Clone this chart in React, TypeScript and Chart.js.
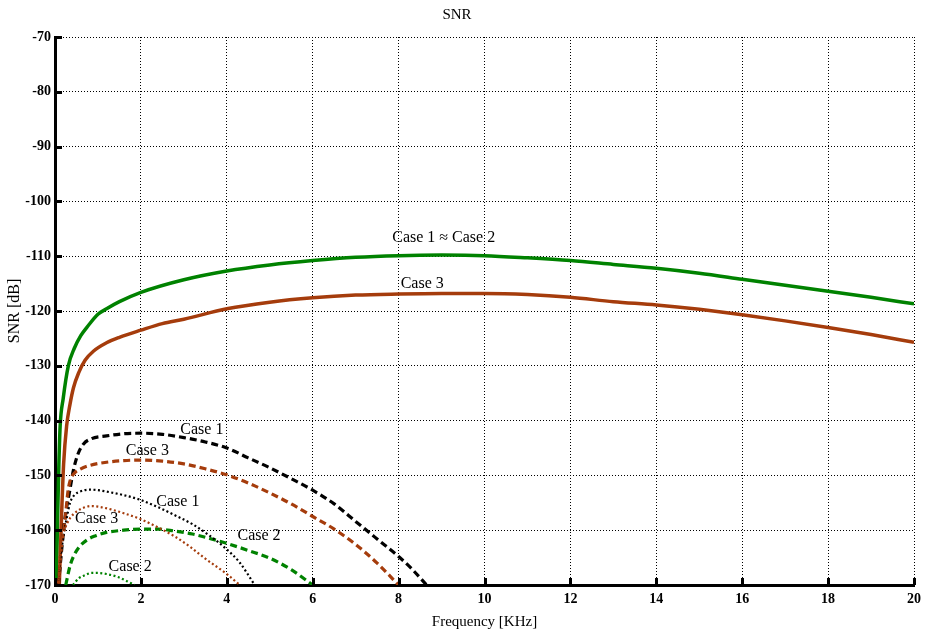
import React, { useEffect, useRef } from "react";
import { Chart, registerables } from "chart.js";

Chart.register(...registerables);

// ---- Data (frequency in KHz, SNR in dB) ----
const titleText = "SNR";
const xTitle = "Frequency [KHz]";
const yTitle = "SNR [dB]";

// Solid: Case 1 ≈ Case 2 (green)
const freqSolid12 = [0.03, 0.06, 0.09, 0.12, 0.19, 0.31, 0.45, 0.6, 0.78, 1.0, 1.2, 1.5, 2, 3, 4, 5, 6, 7, 8, 9, 10, 11, 12, 13, 14, 15, 16, 17, 18, 19, 20];
const snrSolid12 = [-170, -158, -148, -141, -136, -130, -126.8, -124.5, -122.6, -120.6, -119.6, -118.3, -116.6, -114.3, -112.7, -111.6, -110.8, -110.2, -109.9, -109.8, -109.9, -110.3, -110.8, -111.5, -112.2, -113.1, -114.2, -115.3, -116.4, -117.5, -118.7];

// Solid: Case 3 (brown)
const freqSolid3 = [0.1, 0.15, 0.2, 0.27, 0.35, 0.43, 0.55, 0.7, 0.9, 1.2, 1.5, 2, 2.5, 3, 4, 5, 6, 7, 8, 9, 10, 11, 12, 13, 14, 15, 16, 17, 18, 19, 20];
const snrSolid3 = [-170, -158, -148, -141, -137, -134, -131.3, -129, -127.3, -125.8, -124.8, -123.5, -122.3, -121.5, -119.6, -118.4, -117.6, -117.1, -116.9, -116.8, -116.8, -117, -117.5, -118.3, -118.9, -119.7, -120.7, -121.8, -123, -124.3, -125.7];

// Dashed: Case 1 (black)
const freqDashed1 = [0.08, 0.15, 0.23, 0.35, 0.43, 0.54, 0.66, 0.85, 1.2, 1.6, 2.0, 2.5, 3.0, 3.5, 4.0, 4.5, 5.0, 5.5, 6.0, 6.5, 7.0, 7.5, 8.0, 8.3, 8.65];
const snrDashed1 = [-170, -164, -158, -152.5, -149, -146, -144.3, -143.3, -142.8, -142.4, -142.3, -142.5, -143.1, -143.9, -145, -146.8, -148.6, -150.6, -152.7, -155.2, -158.4, -161.6, -164.8, -167, -170];

// Dashed: Case 3 (brown)
const freqDashed3 = [0.08, 0.15, 0.23, 0.3, 0.35, 0.45, 0.6, 0.8, 1.2, 1.6, 2.0, 2.5, 3.0, 3.5, 4.0, 4.5, 5.0, 5.5, 6.0, 6.5, 7.0, 7.5, 8.0];
const snrDashed3 = [-170, -163, -158.5, -153, -151, -149.6, -148.8, -148.2, -147.6, -147.3, -147.2, -147.4, -147.9, -148.8, -149.9, -151.4, -153.2, -155.2, -157.5, -159.8, -162.6, -166, -170];

// Dashed: Case 2 (green)
const freqDashed2 = [0.25, 0.35, 0.43, 0.55, 0.74, 0.95, 1.2, 1.6, 2.0, 2.4, 2.75, 3.2, 3.6, 4.0, 4.5, 5.0, 5.5, 6.0];
const snrDashed2 = [-170, -166.5, -164.8, -163.2, -161.8, -161, -160.4, -160, -159.8, -159.8, -160.1, -160.7, -161.5, -162.4, -163.7, -165.1, -167.2, -170];

// Dotted: Case 1 (black)
const freqDotted1 = [0.07, 0.13, 0.2, 0.28, 0.35, 0.45, 0.6, 0.81, 1.0, 1.3, 1.6, 2.0, 2.4, 2.8, 3.2, 3.6, 4.0, 4.3, 4.65];
const snrDotted1 = [-170, -165, -161, -157.5, -155, -153.6, -152.9, -152.6, -152.7, -153.1, -153.6, -154.5, -155.8, -157.3, -158.9, -161, -163.5, -165.9, -170];

// Dotted: Case 3 (brown)
const freqDotted3 = [0.08, 0.12, 0.2, 0.28, 0.35, 0.5, 0.7, 0.85, 1.0, 1.3, 1.6, 2.0, 2.4, 2.8, 3.14, 3.5, 4.0, 4.3];
const snrDotted3 = [-170, -163.5, -160.5, -158.8, -157.8, -156.6, -155.8, -155.6, -155.7, -156.2, -156.9, -158, -159.5, -161.2, -163, -165.2, -168, -170];

// Dotted: Case 2 (green)
const freqDotted2 = [0.42, 0.55, 0.7, 0.85, 1.0, 1.2, 1.45, 1.65, 1.85];
const snrDotted2 = [-170, -168.8, -168.2, -167.8, -167.8, -168, -168.5, -169.2, -170];

// Curve annotations
const annotationTexts = ["Case 1 \u2248 Case 2", "Case 3", "Case 1", "Case 3", "Case 1", "Case 3", "Case 2", "Case 2"];
const annotationFreq = [9.05, 8.55, 3.42, 2.15, 2.86, 0.97, 4.75, 1.75];
const annotationSnr = [-106.7, -115.1, -141.7, -145.5, -154.9, -158.0, -161.1, -166.7];

const GREEN = "#008200";
const BROWN = "#A53C0C";
const BLACK = "#000000";
const FONT = '"Liberation Serif", "Times New Roman", serif';

const pts = (xs: number[], ys: number[]) => xs.map((x, i) => ({ x, y: ys[i] }));

const annotationPlugin = {
  id: "caseLabels",
  afterDatasetsDraw(chart: any) {
    const { ctx, scales } = chart;
    ctx.save();
    ctx.font = `16px ${FONT}`;
    ctx.fillStyle = "#000";
    ctx.textAlign = "center";
    ctx.textBaseline = "middle";
    annotationTexts.forEach((t, i) => {
      ctx.fillText(t, scales.x.getPixelForValue(annotationFreq[i]), scales.y.getPixelForValue(annotationSnr[i]));
    });
    ctx.restore();
  },
};

const innerTicksPlugin = {
  id: "innerTicks",
  afterDraw(chart: any) {
    const { ctx, scales, chartArea } = chart;
    ctx.save();
    ctx.strokeStyle = "#000";
    ctx.lineWidth = 3;
    const len = 7;
    scales.x.ticks.forEach((t: any) => {
      const px = Math.round(scales.x.getPixelForValue(t.value)) + 0.5;
      ctx.beginPath();
      ctx.moveTo(px, chartArea.bottom);
      ctx.lineTo(px, chartArea.bottom - len);
      ctx.stroke();
    });
    scales.y.ticks.forEach((t: any) => {
      const py = Math.round(scales.y.getPixelForValue(t.value)) + 0.5;
      ctx.beginPath();
      ctx.moveTo(chartArea.left, py);
      ctx.lineTo(chartArea.left + len, py);
      ctx.stroke();
    });
    ctx.restore();
  },
};

export default function App() {
  const canvasRef = useRef<HTMLCanvasElement | null>(null);

  useEffect(() => {
    if (!canvasRef.current) return;
    Chart.defaults.font.family = FONT;
    const mk = (label: string, xs: number[], ys: number[], color: string, width: number, dash: number[]) => ({
      label,
      data: pts(xs, ys),
      borderColor: color,
      backgroundColor: color,
      borderWidth: width,
      borderDash: dash,
      pointRadius: 0,
      fill: false,
      cubicInterpolationMode: "monotone" as const,
    });
    const chart = new Chart(canvasRef.current, {
      type: "line",
      data: {
        datasets: [
          mk("Case 3 dotted", freqDotted3, snrDotted3, BROWN, 2.2, [2, 2.5]),
          mk("Case 1 dotted", freqDotted1, snrDotted1, BLACK, 2.2, [2, 2.5]),
          mk("Case 2 dotted", freqDotted2, snrDotted2, GREEN, 2.2, [2, 2.5]),
          mk("Case 3 dashed", freqDashed3, snrDashed3, BROWN, 3.2, [7, 4]),
          mk("Case 1 dashed", freqDashed1, snrDashed1, BLACK, 3.2, [7, 4]),
          mk("Case 2 dashed", freqDashed2, snrDashed2, GREEN, 3.2, [7, 4]),
          mk("Case 3", freqSolid3, snrSolid3, BROWN, 3.5, []),
          mk("Case 1 ≈ Case 2", freqSolid12, snrSolid12, GREEN, 3.5, []),
        ],
      },
      options: {
        animation: false,
        responsive: false,
        events: [],
        layout: { padding: { left: 0, right: 14, top: 0, bottom: 0 } },
        plugins: {
          legend: { display: false },
          tooltip: { enabled: false },
          title: {
            display: true,
            text: titleText,
            color: "#000",
            font: { size: 15, weight: "normal", family: FONT },
            padding: { top: 6, bottom: 13 },
          },
        },
        scales: {
          x: {
            type: "linear",
            min: 0,
            max: 20,
            ticks: { stepSize: 2, color: "#000", font: { size: 14, weight: "bold", family: FONT }, padding: 6, maxRotation: 0 },
            grid: { color: "#000", lineWidth: 1, drawTicks: false },
            border: { display: true, color: "#000", width: 3, dash: [1, 2] },
            title: { display: true, text: xTitle, color: "#000", font: { size: 15, family: FONT }, padding: { top: 0, bottom: 3 } },
            afterFit: (s: any) => { s.height = 49; },
          },
          y: {
            type: "linear",
            min: -170,
            max: -70,
            ticks: { stepSize: 10, color: "#000", font: { size: 14, weight: "bold", family: FONT }, padding: 4 },
            grid: { color: "#000", lineWidth: 1, drawTicks: false },
            border: { display: true, color: "#000", width: 3, dash: [1, 2] },
            title: { display: true, text: yTitle, color: "#000", font: { size: 16, family: FONT }, padding: { top: 5.4, bottom: 0 } },
            afterFit: (s: any) => { s.width = 55; },
          },
        },
      } as any,
      plugins: [annotationPlugin, innerTicksPlugin],
    });
    return () => chart.destroy();
  }, []);

  return (
    <div style={{ position: "absolute", left: 0, top: 0, width: 928, height: 634, background: "#fff" }}>
      <canvas ref={canvasRef} width={928} height={634} style={{ display: "block" }} />
    </div>
  );
}
